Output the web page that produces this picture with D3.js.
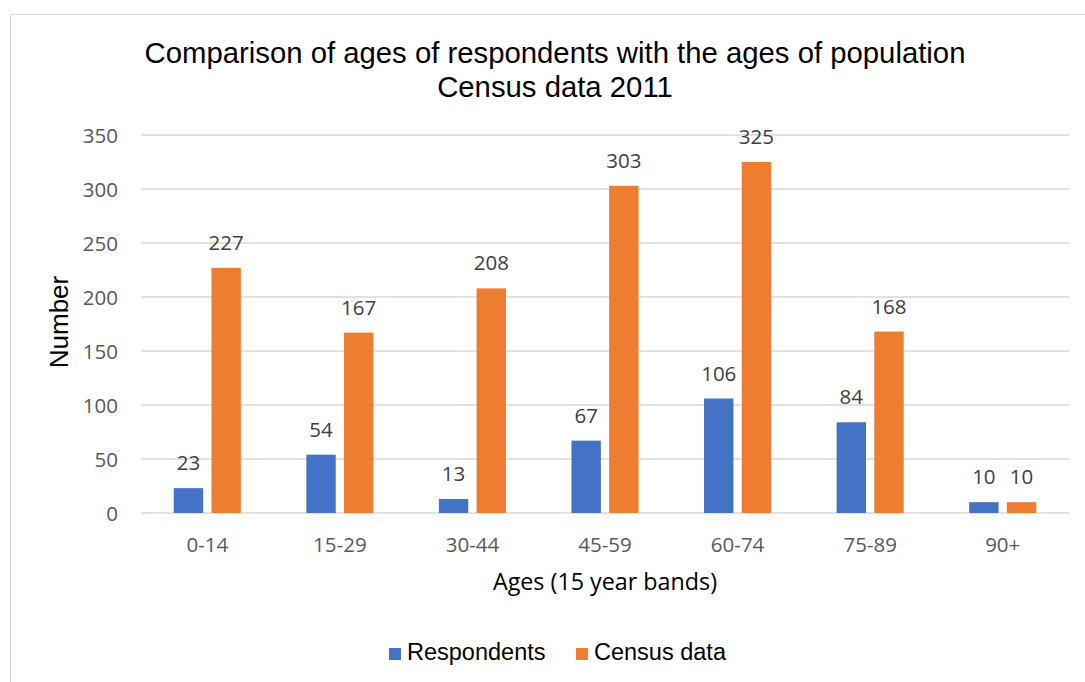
<!DOCTYPE html>
<html>
<head>
<meta charset="utf-8">
<script src="https://cdn.jsdelivr.net/npm/d3@7"></script>
<style>
  html, body { margin: 0; padding: 0; background: #fff; }
  svg { display: block; }
</style>
</head>
<body>
<svg id="chart" width="1085" height="682"></svg>
<script>
// Age bands and counts per band
const ageBands = ["0-14", "15-29", "30-44", "45-59", "60-74", "75-89", "90+"];
const respondents = [23, 54, 13, 67, 106, 84, 10];
const census = [227, 167, 208, 303, 325, 168, 10];
const seriesNames = ["Respondents", "Census data"];
const yTicks = [0, 50, 100, 150, 200, 250, 300, 350];
const titleLines = ["Comparison of ages of respondents with the ages of population", "Census data 2011"];

const colors = ["#4472C4", "#ED7D31"];
const numFont = "'Open Sans', sans-serif";
const txtFont = "'Liberation Sans', Arial, sans-serif";

const svg = d3.select("#chart");

// chart frame
svg.append("rect")
  .attr("x", 10.5).attr("y", 14.5)
  .attr("width", 1200).attr("height", 800)
  .attr("fill", "#fff").attr("stroke", "#d9d9d9").attr("stroke-width", 1);

const plot = { left: 141, right: 1069, top: 135, bottom: 513 };

const x0 = d3.scaleBand()
  .domain(ageBands)
  .range([plot.left, plot.right])
  .paddingInner(0.494)
  .paddingOuter(0.247);

const x1 = d3.scaleBand()
  .domain(seriesNames)
  .range([0, x0.bandwidth()])
  .paddingInner(0.22);

const y = d3.scaleLinear().domain([0, 350]).range([plot.bottom, plot.top]);

// gridlines
svg.append("g")
  .selectAll("line")
  .data(yTicks)
  .join("line")
  .attr("x1", plot.left).attr("x2", plot.right)
  .attr("y1", d => y(d)).attr("y2", d => y(d))
  .attr("stroke", "#d9d9d9").attr("stroke-width", 1.3);

// y axis labels
const yAxis = d3.axisLeft(y).tickValues(yTicks).tickSize(0).tickPadding(0);
const gy = svg.append("g").attr("transform", `translate(${plot.left - 23},0)`).call(yAxis);
gy.select(".domain").remove();
gy.selectAll("text")
  .attr("font-family", numFont).attr("font-size", 20.5)
  .attr("fill", "#595959").attr("dy", "0.35em");

// x axis labels
const xAxis = d3.axisBottom(x0).tickSize(0).tickPadding(0);
const gx = svg.append("g").attr("transform", `translate(0,552)`).call(xAxis);
gx.select(".domain").remove();
gx.selectAll("text")
  .attr("font-family", numFont).attr("font-size", 20.5)
  .attr("fill", "#595959").attr("dy", 0);

// bars
const rows = ageBands.map((band, i) => ({
  band,
  values: [
    { series: seriesNames[0], value: respondents[i], color: colors[0] },
    { series: seriesNames[1], value: census[i], color: colors[1] }
  ]
}));

const groups = svg.append("g")
  .selectAll("g")
  .data(rows)
  .join("g")
  .attr("transform", d => `translate(${x0(d.band)},0)`);

groups.selectAll("rect")
  .data(d => d.values)
  .join("rect")
  .attr("x", d => x1(d.series))
  .attr("width", x1.bandwidth())
  .attr("y", d => y(d.value))
  .attr("height", d => y(0) - y(d.value))
  .attr("fill", d => d.color);

groups.selectAll("text")
  .data(d => d.values)
  .join("text")
  .attr("x", d => x1(d.series) + x1.bandwidth() / 2)
  .attr("y", d => y(d.value) - 18)
  .attr("text-anchor", "middle")
  .attr("font-family", numFont).attr("font-size", 20.5)
  .attr("fill", "#404040")
  .text(d => d.value);

// title
svg.append("g")
  .selectAll("text")
  .data(titleLines)
  .join("text")
  .attr("x", 555)
  .attr("y", (d, i) => 63 + i * 34)
  .attr("text-anchor", "middle")
  .attr("font-family", txtFont).attr("font-size", 29.3)
  .attr("fill", "#000")
  .text(d => d);

// axis titles
svg.append("text")
  .attr("x", (plot.left + plot.right) / 2).attr("y", 590)
  .attr("text-anchor", "middle")
  .attr("font-family", numFont).attr("font-size", 23.3)
  .attr("fill", "#000")
  .text("Ages (15 year bands)");

svg.append("text")
  .attr("transform", "translate(68,322) rotate(-90)")
  .attr("text-anchor", "middle")
  .attr("font-family", txtFont).attr("font-size", 26)
  .attr("fill", "#000")
  .text("Number");

// legend
const legendX = [389, 576];
const legend = svg.append("g")
  .selectAll("g")
  .data(seriesNames)
  .join("g")
  .attr("transform", (d, i) => `translate(${legendX[i]},648)`);
legend.append("rect")
  .attr("width", 12).attr("height", 12)
  .attr("fill", (d, i) => colors[i]);
legend.append("text")
  .attr("x", 18).attr("y", 11.5)
  .attr("font-family", txtFont).attr("font-size", 23.5)
  .attr("fill", "#000")
  .text(d => d);
</script>
</body>
</html>
